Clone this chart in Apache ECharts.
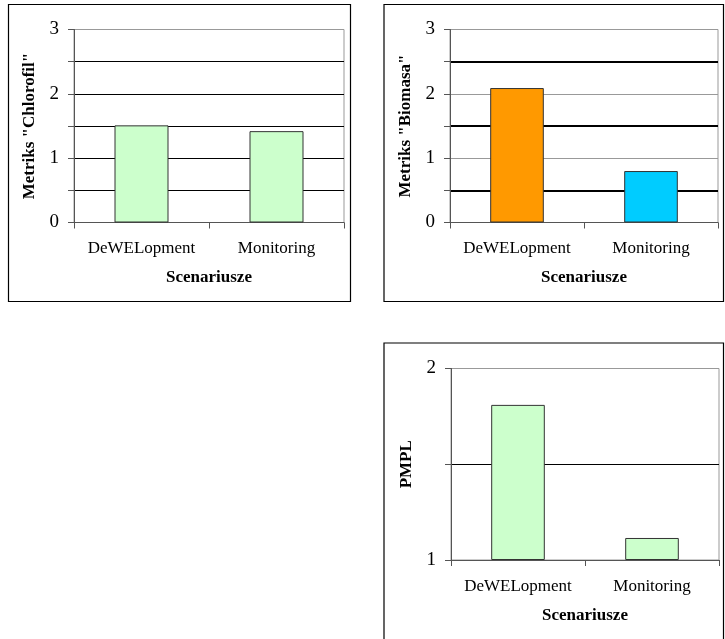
<!DOCTYPE html>
<html>
<head>
<meta charset="utf-8">
<script src="https://cdn.jsdelivr.net/npm/echarts@6/dist/echarts.min.js"></script>
<style>
  html, body { margin: 0; padding: 0; background: #fff; }
  #chart { width: 725px; height: 639px; }
</style>
</head>
<body>
<div id="chart"></div>
<script>
// Scenario categories shared by all three panels
const scenarios = ['DeWELopment', 'Monitoring'];

// Panel values
const chlorofilValues = [1.51, 1.42];
const biomasaValues = [2.09, 0.80];
const pmplValues = [1.81, 1.115];

// Bar colours per panel
const chlorofilColors = ['#CCFFCC', '#CCFFCC'];
const biomasaColors = ['#FF9900', '#00CCFF'];
const pmplColors = ['#CCFFCC', '#CCFFCC'];

// Axis titles
const xTitle = 'Scenariusze';
const chlorofilTitle = 'Metriks "Chlorofil"';
const biomasaTitle = 'Metriks "Biomasa"';
const pmplTitle = 'PMPL';

const FONT = '"Liberation Serif", "Times New Roman", serif';
const AXIS_GREY = '#555';

function xAxisFor(gridIndex) {
  return {
    type: 'category',
    gridIndex: gridIndex,
    data: scenarios,
    boundaryGap: true,
    name: xTitle,
    nameLocation: 'middle',
    nameGap: 47,
    nameTextStyle: { fontFamily: FONT, fontSize: 17, fontWeight: 'bold', color: '#000' },
    axisLine: { show: true, lineStyle: { color: AXIS_GREY, width: 1 } },
    axisTick: { show: true, length: 6, alignWithLabel: false, lineStyle: { color: AXIS_GREY } },
    axisLabel: { fontFamily: FONT, fontSize: 17, color: '#000', margin: 18, interval: 0, hideOverlap: false },
    splitLine: { show: false }
  };
}

function yAxisFor(gridIndex, min, max, title, majorColors, minorWidth, labelFilter) {
  return {
    type: 'value',
    gridIndex: gridIndex,
    min: min,
    max: max,
    interval: 1,
    startValue: min,
    name: title,
    nameLocation: 'middle',
    nameGap: 36,
    nameRotate: 90,
    nameTextStyle: { fontFamily: FONT, fontSize: 17, fontWeight: 'bold', color: '#000' },
    axisLine: { show: true, lineStyle: { color: AXIS_GREY, width: 1 } },
    axisTick: { show: true, inside: false, length: 6, lineStyle: { color: AXIS_GREY } },
    minorTick: { show: true, splitNumber: 2, length: 6, lineStyle: { color: AXIS_GREY } },
    axisLabel: {
      fontFamily: FONT, fontSize: 19, color: '#000', margin: 15,
      formatter: labelFilter
    },
    splitLine: { show: true, lineStyle: { color: majorColors, width: 1 } },
    minorSplitLine: { show: true, lineStyle: { color: '#000', width: minorWidth } }
  };
}

function barSeries(index, values, colors) {
  return {
    type: 'bar',
    xAxisIndex: index,
    yAxisIndex: index,
    barWidth: '40%',
    clip: true,
    data: values.map((v, i) => ({ value: v, itemStyle: { color: colors[i] } })),
    itemStyle: { borderColor: '#333', borderWidth: 1 },
    emphasis: { disabled: true },
    silent: true
  };
}

const intLabel = v => String(Math.round(v));

const chart = echarts.init(document.getElementById('chart'), null, { renderer: 'canvas' });

chart.setOption({
  animation: false,
  backgroundColor: '#fff',
  textStyle: { fontFamily: FONT },
  graphic: [
    { type: 'rect', shape: { x: 8.5, y: 4.5, width: 342, height: 297 }, style: { fill: 'none', stroke: '#000', lineWidth: 1.2 }, z: 100 },
    { type: 'rect', shape: { x: 384, y: 4.5, width: 339.5, height: 297 }, style: { fill: 'none', stroke: '#000', lineWidth: 1.2 }, z: 100 },
    { type: 'rect', shape: { x: 384, y: 343, width: 339.5, height: 300 }, style: { fill: 'none', stroke: '#000', lineWidth: 1.2 }, z: 100 }
  ],
  grid: [
    { left: 74, top: 29.5, width: 270, height: 193, show: true, borderColor: '#999', borderWidth: 1, backgroundColor: 'transparent' },
    { left: 450, top: 29.5, width: 268, height: 193, show: true, borderColor: '#999', borderWidth: 1, backgroundColor: 'transparent' },
    { left: 451, top: 368.5, width: 268, height: 191.5, show: true, borderColor: '#999', borderWidth: 1, backgroundColor: 'transparent' }
  ],
  xAxis: [xAxisFor(0), xAxisFor(1), xAxisFor(2)],
  yAxis: [
    yAxisFor(0, 0, 3, chlorofilTitle, ['#000', '#000', '#000', '#999'], 1, intLabel),
    yAxisFor(1, 0, 3, biomasaTitle, ['#999', '#999', '#999', '#999'], 2, intLabel),
    yAxisFor(2, 1, 2, pmplTitle, ['#000', '#999'], 1, intLabel)
  ],
  series: [
    barSeries(0, chlorofilValues, chlorofilColors),
    barSeries(1, biomasaValues, biomasaColors),
    barSeries(2, pmplValues, pmplColors)
  ]
});
</script>
</body>
</html>
